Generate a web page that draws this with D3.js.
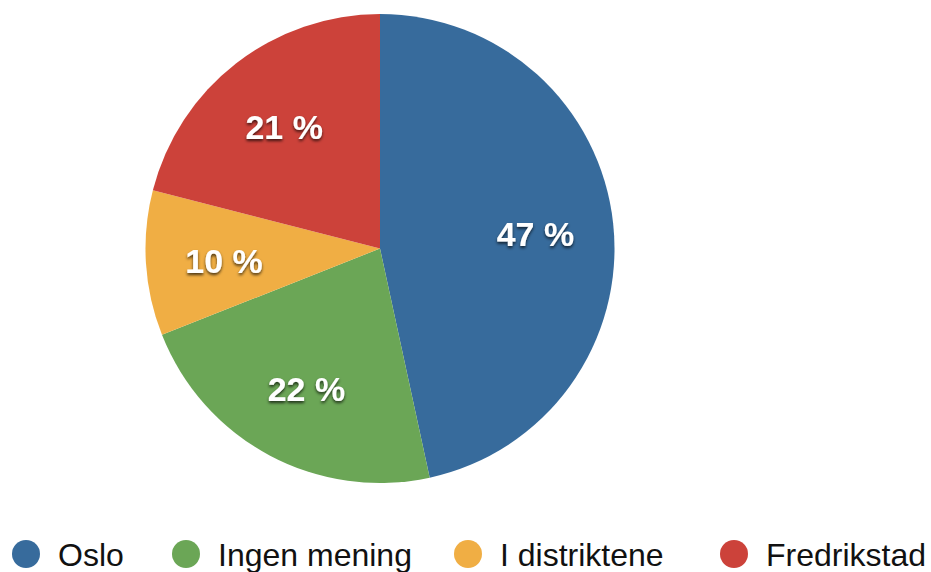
<!DOCTYPE html>
<html>
<head>
<meta charset="utf-8">
<script src="https://cdn.jsdelivr.net/npm/d3@7"></script>
<style>
  body { margin: 0; background: #fff; }
  text { font-family: "Liberation Sans", Arial, Helvetica, sans-serif; }
</style>
</head>
<body>
<svg id="chart" width="931" height="572"></svg>
<script>
// data (andeler lest av bildet, etiketter avrundet)
const kategorier = ["Oslo", "Ingen mening", "I distriktene", "Fredrikstad"];
const verdier = [46.6, 22.4, 10.0, 21.0];
const farger = ["#376b9c", "#6ba656", "#f0ae44", "#cc423a"];

const WIDTH = 931, HEIGHT = 572;
const svg = d3.select("#chart");

// skygge for etikettene
const defs = svg.append("defs");
const skygge = defs.append("filter").attr("id", "skygge")
  .attr("x", "-20%").attr("y", "-20%").attr("width", "140%").attr("height", "160%");
skygge.append("feDropShadow")
  .attr("dx", 0).attr("dy", 2).attr("stdDeviation", 1.5)
  .attr("flood-color", "#000").attr("flood-opacity", 0.7);

const cx = 380, cy = 248.5, radius = 234.5;

const pie = d3.pie().sort(null).value(d => d);
const arc = d3.arc().innerRadius(0).outerRadius(radius);
const etikettArc = d3.arc().innerRadius(radius * 2 / 3).outerRadius(radius * 2 / 3);
const farge = d3.scaleOrdinal().domain(kategorier).range(farger);

const g = svg.append("g").attr("transform", `translate(${cx},${cy})`);
const biter = pie(verdier);

g.selectAll("path.bit")
  .data(biter)
  .join("path")
  .attr("class", "bit")
  .attr("d", arc)
  .attr("fill", (d, i) => farge(kategorier[i]));

g.selectAll("text.etikett")
  .data(biter)
  .join("text")
  .attr("class", "etikett")
  .attr("transform", d => `translate(${etikettArc.centroid(d)})`)
  .attr("text-anchor", "middle")
  .attr("dy", "0.42em")
  .attr("fill", "#fff")
  .attr("font-weight", "bold")
  .attr("font-size", 34)
  .attr("filter", "url(#skygge)")
  .text(d => Math.round(d.value) + " %");

// legende
const legendX = [26, 186, 468, 734];
const legende = svg.append("g").attr("transform", "translate(0,554)");
const poster = legende.selectAll("g")
  .data(kategorier)
  .join("g")
  .attr("transform", (d, i) => `translate(${legendX[i]},0)`);
poster.append("circle").attr("r", 14).attr("fill", d => farge(d));
poster.append("text")
  .attr("x", 32)
  .attr("dy", "0.36em")
  .attr("font-size", 32)
  .attr("fill", "#111")
  .text(d => d);
</script>
</body>
</html>
